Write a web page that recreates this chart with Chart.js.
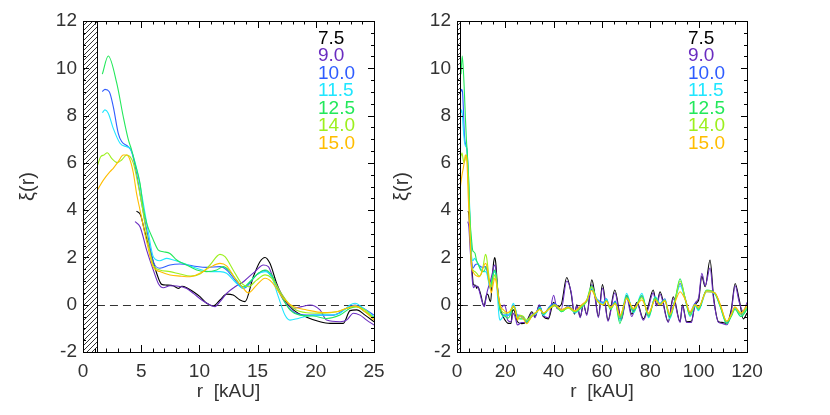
<!DOCTYPE html>
<html><head><meta charset="utf-8">
<script src="https://cdn.jsdelivr.net/npm/chart.js@4.4.1/dist/chart.umd.min.js"></script>
<style>
html,body{margin:0;padding:0;background:#fff;}
#wrap{position:relative;width:830px;height:415px;overflow:hidden;}
canvas{position:absolute;top:0;}
#c1{left:0;}
#c2{left:380px;}
</style></head><body>
<div id="wrap"><canvas id="c1" width="400" height="415"></canvas><canvas id="c2" width="450" height="415"></canvas></div>
<script>
// ---- series labels & colours ----
const LABELS = ['7.5', '9.0', '10.0', '11.5', '12.5', '14.0', '15.0'];
const COLORS = ['#000000', '#6a2cc0', '#2f5cff', '#1fe6ff', '#22e85a', '#9cf01e', '#ffbd00'];

// ---- inner region r = 0 .. 25 kAU (both panels) ----
const X75 = [4.6, 4.95, 5.3, 5.76, 6.33, 6.76, 7.19, 7.76, 8.19, 8.5, 8.91, 9.48, 10.05, 10.63, 11.2, 11.77, 12.34, 12.9, 13.49, 13.92, 14.63, 15.2, 15.64, 16.06, 16.64, 17.21, 18.07, 19.22, 20.36, 21.22, 22.36, 22.94, 23.51, 24.23, 25];
const Y75 = [3.96, 3.79, 3.1, 2.31, 1.33, 0.86, 0.83, 0.8, 0.69, 0.78, 0.72, 0.55, 0.34, 0.06, -0.05, 0.2, 0.45, 0.41, 0.2, 0.13, 1.18, 1.82, 2.0, 1.75, 0.9, 0.27, -0.22, -0.53, -0.72, -0.79, -0.79, -0.25, -0.22, -0.44, -0.72];

const X90 = [4.47, 4.9, 5.47, 6.04, 6.47, 6.9, 7.47, 8.05, 8.91, 9.48, 10.2, 10.91, 11.34, 11.77, 12.34, 13.06, 13.78, 14.2, 14.78, 15.49, 15.92, 16.35, 17.21, 18.07, 18.78, 19.5, 20.36, 20.93, 22.08, 22.65, 23.23, 23.8, 24.37, 25];
const Y90 = [3.51, 3.3, 2.31, 1.47, 0.9, 0.72, 0.8, 0.79, 0.69, 0.48, 0.2, -0.01, -0.08, 0.13, 0.48, 0.76, 0.97, 1.16, 1.4, 1.68, 1.61, 1.12, 0.34, -0.15, -0.08, -0.01, -0.22, -0.65, -0.72, -0.65, -0.36, -0.44, -0.65, -0.86];

const X100 = [1.66, 1.89, 2.26, 2.6, 3.03, 3.32, 3.9, 4.18, 4.6, 5.04, 5.5, 6.04, 6.6, 7.47, 8.33, 9.48, 10.63, 11.77, 12.34, 13.06, 13.77, 14.06, 14.91, 15.64, 16.2, 17.21, 18.07, 19.22, 20.36, 21.5, 22.65, 23.37, 24.08, 25];
const Y100 = [9.01, 9.11, 9.01, 8.38, 7.25, 6.9, 6.68, 6.47, 5.56, 4.29, 3.1, 1.82, 1.54, 1.68, 1.72, 1.64, 1.58, 1.61, 1.47, 1.04, 0.69, 0.76, 1.26, 1.45, 1.18, 0.2, -0.3, -0.44, -0.44, -0.44, -0.15, -0.01, -0.15, -0.44];

const X115 = [1.66, 1.89, 2.17, 2.6, 3.18, 3.75, 4.04, 4.33, 4.76, 5.18, 5.6, 6.04, 6.6, 7.19, 7.76, 8.62, 9.77, 10.91, 11.77, 12.34, 13.06, 13.77, 14.06, 14.91, 15.64, 16.2, 16.78, 17.35, 17.78, 18.49, 19.78, 20.93, 22.08, 22.94, 23.37, 24.08, 25];
const Y115 = [8.12, 8.24, 8.1, 7.46, 6.83, 6.68, 6.61, 6.26, 5.41, 4.29, 3.1, 2.03, 1.86, 1.96, 1.89, 1.75, 1.54, 1.4, 1.4, 1.33, 0.97, 0.69, 0.83, 1.26, 1.4, 1.18, 0.34, -0.44, -0.65, -0.58, -0.44, -0.44, -0.36, -0.01, 0.06, -0.15, -0.51];

const X125 = [1.66, 2.17, 2.9, 3.46, 3.9, 4.18, 4.47, 4.9, 5.18, 5.5, 6.04, 6.47, 6.9, 7.47, 8.05, 8.91, 9.77, 10.63, 11.49, 12.05, 12.63, 13.2, 13.77, 14.35, 15.06, 15.64, 16.2, 16.92, 17.78, 18.64, 19.78, 20.93, 22.08, 22.94, 23.51, 24.23, 25];
const Y125 = [9.75, 10.52, 9.37, 7.95, 6.97, 6.54, 5.98, 5.13, 4.08, 3.4, 2.74, 2.31, 2.24, 2.17, 1.89, 1.68, 1.47, 1.4, 1.47, 1.61, 1.4, 1.04, 0.76, 0.97, 1.33, 1.47, 1.26, 0.48, -0.22, -0.44, -0.48, -0.58, -0.44, -0.15, -0.08, -0.3, -0.55];

const X140 = [1.23, 1.52, 1.8, 2.09, 2.46, 2.95, 3.32, 3.75, 4.04, 4.33, 4.6, 5.04, 5.5, 6.04, 6.6, 7.47, 8.33, 9.2, 10.05, 10.91, 11.77, 12.2, 12.9, 13.63, 14.2, 14.92, 15.64, 16.2, 17.21, 18.07, 19.22, 20.65, 21.79, 22.65, 23.37, 24.23, 25];
const Y140 = [5.87, 6.26, 6.33, 6.43, 6.19, 6.01, 6.12, 6.33, 6.26, 5.98, 5.41, 4.29, 2.9, 1.68, 1.47, 1.4, 1.3, 1.21, 1.3, 1.68, 2.13, 2.03, 1.47, 0.9, 0.76, 1.04, 1.26, 1.12, 0.34, -0.15, -0.34, -0.36, -0.3, -0.15, -0.08, -0.22, -0.58];

const X150 = [1.23, 1.75, 2.32, 2.6, 3.03, 3.46, 3.75, 4.04, 4.33, 4.6, 4.9, 5.5, 6.04, 6.6, 7.47, 8.33, 9.2, 10.05, 10.91, 11.77, 12.34, 13.06, 13.77, 14.2, 14.92, 15.64, 16.2, 17.21, 18.07, 19.22, 20.65, 21.79, 22.65, 23.37, 24.23, 25];
const Y150 = [4.85, 5.27, 5.63, 5.77, 6.05, 6.33, 6.33, 6.12, 5.56, 4.71, 4.0, 2.6, 1.58, 1.4, 1.26, 1.21, 1.18, 1.33, 1.58, 1.75, 1.64, 1.12, 0.69, 0.5, 0.83, 1.12, 0.97, 0.27, -0.08, -0.22, -0.33, -0.3, -0.15, -0.05, -0.3, -0.65];

// ---- outer region r > 25 kAU (right panel only) ----
const TX_BP = [26.8, 28.8, 31, 32.3, 34, 35.7, 37.8, 40, 41.3, 43.1, 45.4, 47.2, 48.6, 49.6, 51, 52.3, 53.7, 55.8, 57.1, 58.5, 60.2, 62.5, 65.3, 68, 70.2, 72.3, 74.5, 77.1, 79, 81.2, 82.6, 84, 87.4, 89.5, 92.3, 93.3, 95, 97, 98.5, 100, 101.3, 102.7, 104.7, 106.2, 108.2, 110, 111.6, 113.5, 115.1, 116.8, 118.5, 120];
const TY75 = [-0.8, -0.7, -0.3, -0.5, -0.05, -0.5, -0.6, 0.1, -0.1, 0.0, 1.15, 0.5, -0.4, 0.0, -0.5, 0.0, -0.4, 1.05, 0.4, -0.5, 0.85, -0.65, 0.62, -0.6, 0.4, -0.4, 0.1, -0.6, -0.1, 0.62, 0.0, 0.55, -0.72, 0.34, -0.72, 0.0, -0.72, -0.7, 0.0, 0.2, 1.2, 0.76, 1.89, 0.3, -0.72, -0.75, -0.8, -0.2, 0.9, 0.2, -0.6, -0.35];
const TY90 = [-0.75, -0.75, -0.35, -0.55, 0.0, -0.45, -0.55, 0.4, -0.15, -0.2, 1.0, 0.55, -0.35, -0.05, -0.55, 0.05, -0.45, 0.85, 0.3, -0.55, 0.7, -0.7, 0.5, -0.65, 0.3, -0.5, 0.05, -0.65, -0.2, 0.5, -0.05, 0.45, -0.75, 0.25, -0.75, -0.05, -0.75, -0.75, 0.05, 0.3, 1.33, 0.8, 1.55, 0.2, -0.75, -0.8, -0.85, -0.3, 0.8, 0.1, -0.3, 0.1];

const TX_C = [26, 27.5, 28.8, 30.9, 33, 34.3, 35.7, 38.5, 40.5, 43.3, 46.1, 48.8, 51.6, 53.7, 55.7, 57.8, 60.6, 61.8, 63.5, 65.5, 67.4, 70.2, 73, 76.5, 79.3, 82, 84, 86, 88, 90.2, 92.3, 94.5, 96.4, 98.5, 99.9, 103.3, 106.7, 109, 111.6, 113.5, 115, 117.5, 120];
const TY100 = [-0.45, -0.55, -0.7, -0.45, -0.3, -0.1, -0.4, -0.05, 0.05, -0.25, -0.05, -0.3, -0.05, 0.15, 0.65, 0.25, 0.1, 0.25, -0.15, 0.15, -0.6, 0.35, -0.25, 0.35, -0.45, 0.3, 0.05, 0.25, -0.45, 0.2, 0.9, 0.25, -0.35, 0.05, -0.15, 0.6, 0.5, -0.05, -0.75, -0.45, -0.15, -0.4, -0.15];
const TY115 = [-0.5, -0.6, -0.7, -0.5, -0.35, -0.1, -0.45, -0.1, 0.0, -0.3, -0.1, -0.35, -0.1, 0.15, 0.7, 0.25, 0.05, 0.25, -0.2, 0.1, -0.7, 0.48, -0.35, 0.48, -0.55, 0.35, 0.05, 0.2, -0.6, 0.15, 0.8, 0.2, -0.5, -0.05, -0.25, 0.55, 0.45, -0.1, -0.8, -0.45, -0.15, -0.5, -0.15];
const TY125 = [-0.6, -0.6, -0.75, -0.5, -0.3, -0.15, -0.4, -0.1, 0.0, -0.3, -0.1, -0.3, -0.1, 0.2, 0.8, 0.2, 0.0, 0.2, -0.2, 0.1, -0.8, 0.4, -0.3, 0.4, -0.5, 0.3, 0.0, 0.2, -0.55, 0.2, 1.1, 0.2, -0.45, 0.0, -0.2, 0.62, 0.48, -0.1, -0.8, -0.5, -0.2, -0.5, -0.2];
const TY140 = [-0.45, -0.5, -0.65, -0.45, -0.3, -0.2, -0.35, -0.15, -0.05, -0.25, -0.15, -0.3, -0.05, 0.15, 0.75, 0.2, 0.0, 0.15, -0.15, 0.05, -0.55, 0.3, -0.2, 0.3, -0.4, 0.25, 0.0, 0.2, -0.45, 0.15, 1.0, 0.25, -0.4, 0.0, -0.15, 0.6, 0.5, -0.05, -0.7, -0.45, -0.1, -0.4, -0.1];
const TY150 = [-0.5, -0.6, -0.8, -0.5, -0.3, -0.2, -0.35, -0.15, 0.0, -0.2, -0.1, -0.25, 0.0, 0.2, 0.6, 0.2, 0.0, 0.15, -0.1, 0.05, -0.45, 0.25, -0.15, 0.2, -0.35, 0.2, 0.0, 0.15, -0.4, 0.1, 0.55, 0.2, -0.3, 0.0, -0.1, 0.55, 0.5, 0.0, -0.7, -0.4, -0.1, -0.35, 0.0];

const HATCH_R = 1.2;            // inner excluded region, kAU
const Y_TICKS = [-2, 12, 2];    // min, max, step

const INNER = [[X75, Y75], [X90, Y90], [X100, Y100], [X115, Y115], [X125, Y125], [X140, Y140], [X150, Y150]];
const OUTER = [[TX_BP, TY75], [TX_BP, TY90], [TX_C, TY100], [TX_C, TY115], [TX_C, TY125], [TX_C, TY140], [TX_C, TY150]];

function pts(xs, ys) { return xs.map((v, i) => ({x: v, y: ys[i]})); }

const FONT = '"Liberation Sans", Arial, sans-serif';
const TXT = '#333';

function makeChart(id, cfg) {
  const datasets = LABELS.map((lab, i) => {
    let d = pts(INNER[i][0], INNER[i][1]);
    if (cfg.full) d = d.concat(pts(OUTER[i][0], OUTER[i][1]));
    return {label: lab, data: d, borderColor: COLORS[i], borderWidth: 1.1, pointRadius: 0,
            fill: false, cubicInterpolationMode: 'monotone', order: 6 - i};
  });
  const deco = {
    id: 'deco',
    beforeDatasetsDraw(chart) {
      const {ctx, chartArea: a, scales: {x, y}} = chart;
      ctx.save();
      ctx.strokeStyle = '#333'; ctx.lineWidth = 1; ctx.setLineDash([8, 5]);
      const y0 = Math.round(y.getPixelForValue(0)) + 0.5;
      ctx.beginPath(); ctx.moveTo(x.getPixelForValue(HATCH_R), y0); ctx.lineTo(a.right, y0); ctx.stroke();
      ctx.restore();
    },
    afterDatasetsDraw(chart) {
      const {ctx, chartArea: a, scales: {x, y}} = chart;
      ctx.save();
      // hatched inner region
      const xl = a.left, xr = x.getPixelForValue(HATCH_R), w = xr - xl;
      ctx.beginPath(); ctx.rect(xl, a.top, w, a.bottom - a.top);
      ctx.fillStyle = '#fff'; ctx.fill();
      ctx.save(); ctx.clip();
      ctx.strokeStyle = '#333'; ctx.lineWidth = 1;
      ctx.beginPath();
      for (let k = a.top; k <= a.bottom + w + 6; k += 5) { ctx.moveTo(xl, k); ctx.lineTo(xr, k - w); }
      ctx.stroke();
      ctx.restore();
      ctx.strokeStyle = '#000'; ctx.lineWidth = 1;
      ctx.beginPath(); ctx.moveTo(Math.round(xr) + 0.5, a.top); ctx.lineTo(Math.round(xr) + 0.5, a.bottom); ctx.stroke();
      // frame
      ctx.strokeRect(Math.round(a.left) + 0.5, Math.round(a.top) + 0.5, Math.round(a.right - a.left), Math.round(a.bottom - a.top));
      // ticks
      ctx.beginPath();
      for (let v = 0; v <= cfg.xMax + 1e-9; v += cfg.xMinor) {
        const px = Math.round(x.getPixelForValue(v)) + 0.5;
        const major = Math.abs(v / cfg.xStep - Math.round(v / cfg.xStep)) < 1e-6;
        const L = major ? 7 : 3.5;
        ctx.moveTo(px, a.bottom); ctx.lineTo(px, a.bottom - L);
        ctx.moveTo(px, a.top); ctx.lineTo(px, a.top + L);
      }
      for (let v = Y_TICKS[0]; v <= Y_TICKS[1] + 1e-9; v += 0.5) {
        const py = Math.round(y.getPixelForValue(v)) + 0.5;
        const major = Math.abs(v / 2 - Math.round(v / 2)) < 1e-6;
        const L = major ? 6 : 3;
        ctx.moveTo(a.left, py); ctx.lineTo(a.left + L, py);
        ctx.moveTo(a.right, py); ctx.lineTo(a.right - L, py);
      }
      ctx.stroke();
      // legend (coloured labels)
      ctx.font = '19px ' + FONT; ctx.textBaseline = 'middle'; ctx.textAlign = 'left';
      LABELS.forEach((t, i) => {
        ctx.fillStyle = COLORS[i];
        ctx.fillText(t, a.right - cfg.legOff, a.top + 17.5 + i * 17.5);
      });
      ctx.restore();
    }
  };
  return new Chart(document.getElementById(id), {
    type: 'line',
    data: {datasets},
    plugins: [deco],
    options: {
      responsive: false, animation: false, events: [],
      layout: {padding: {top: 21, right: cfg.padR, left: 0, bottom: 0}},
      plugins: {legend: {display: false}, tooltip: {enabled: false}},
      scales: {
        x: {type: 'linear', min: 0, max: cfg.xMax,
            grid: {display: false, drawTicks: false}, border: {display: false},
            ticks: {stepSize: cfg.xStep, autoSkip: false, maxRotation: 0, padding: 8, color: TXT, font: {family: FONT, size: 19}},
            title: {display: true, text: 'r  [kAU]', color: TXT, font: {family: FONT, size: 19}, padding: {top: 0, bottom: 12}},
            afterFit(s) { s.height = 63; }},
        y: {type: 'linear', min: Y_TICKS[0], max: Y_TICKS[1],
            grid: {display: false, drawTicks: false}, border: {display: false},
            ticks: {stepSize: Y_TICKS[2], autoSkip: false, padding: 6, color: TXT, font: {family: FONT, size: 19}},
            title: {display: true, text: 'ξ(r)', color: TXT, font: {family: FONT, size: 20}, padding: {top: cfg.titleTop, bottom: 0}},
            afterFit(s) { s.width = cfg.yW; }}
      }
    }
  });
}

makeChart('c1', {full: false, xMax: 25, xStep: 5, xMinor: 1, padR: 26, yW: 83, titleTop: 16, legOff: 56});
makeChart('c2', {full: true, xMax: 120, xStep: 20, xMinor: 5, padR: 83, yW: 77, titleTop: 10, legOff: 59});
</script>
</body></html>
